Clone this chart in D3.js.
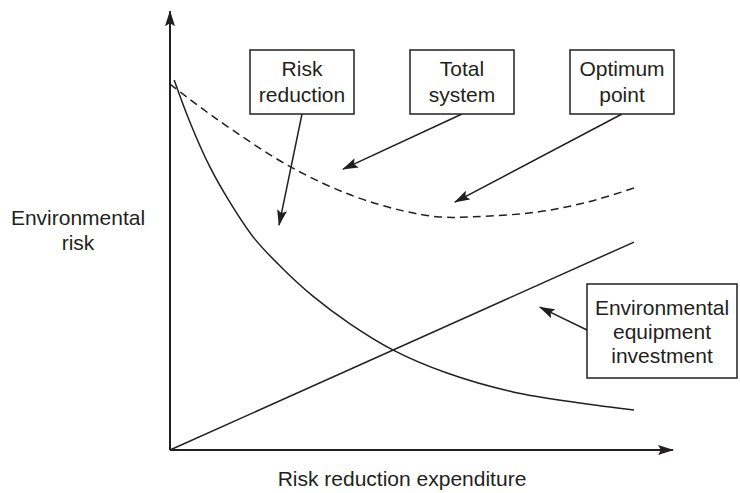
<!DOCTYPE html>
<html>
<head>
<meta charset="utf-8">
<script src="https://cdn.jsdelivr.net/npm/d3@7/dist/d3.min.js"></script>
<style>
    body { margin: 0; background: #fff; }
    svg text { font-family: "Liberation Sans", Arial, Helvetica, sans-serif; font-size: 21px; fill: #231f20; }
</style>
</head>
<body>
<svg id="chart" width="740" height="493"></svg>
<script>
// curves (arbitrary units, x 0..10, y 0..10)
var riskX = [0.09, 0.43, 0.86, 1.29, 1.83, 2.48, 3.08, 3.88, 4.81, 5.97, 7.39, 8.84, 10]
var riskY = [10, 8.86, 7.65, 6.7, 5.7, 4.84, 4.16, 3.41, 2.7, 2.08, 1.57, 1.27, 1.08]

var totalX = [0, 1.0, 2.6, 3.9, 5.0, 5.8, 6.5, 7.9, 9.0, 10]
var totalY = [9.89, 8.95, 7.65, 6.89, 6.47, 6.3, 6.3, 6.43, 6.7, 7.08]

var investX = [0, 10]
var investY = [0, 5.62]

// annotation texts and where their arrows point
var noteLines = [["Risk", "reduction"], ["Total", "system"], ["Optimum", "point"], ["Environmental", "equipment", "investment"]]
var noteTipX = [2.35, 3.73, 6.14, 7.97]
var noteTipY = [6.08, 7.59, 6.70, 3.86]

var xLabel = "Risk reduction expenditure"
var yLabel = ["Environmental", "risk"]

var ink = "#231f20"

var xScale = d3.scaleLinear().domain([0, 10]).range([170, 634])
var yScale = d3.scaleLinear().domain([0, 10]).range([450, 80])

var svg = d3.select("#chart")

svg.append("defs").append("marker")
    .attr("id", "head")
    .attr("viewBox", "0 -5 16 10")
    .attr("refX", 15)
    .attr("refY", 0)
    .attr("markerWidth", 16)
    .attr("markerHeight", 10)
    .attr("markerUnits", "userSpaceOnUse")
    .attr("orient", "auto")
    .append("path")
    .attr("d", "M0,-5L16,0L0,5L3,0Z")
    .style("fill", ink)

function zip(xs, ys) {
    return xs.map(function (x, i) { return { x: x, y: ys[i] } })
}

var line = d3.line()
    .x(function (d) { return xScale(d.x) })
    .y(function (d) { return yScale(d.y) })
    .curve(d3.curveCatmullRom.alpha(0.5))

// axes
svg.append("line")
    .attr("x1", xScale(0)).attr("y1", yScale(0))
    .attr("x2", xScale(10.84)).attr("y2", yScale(0))
    .style("stroke", ink).style("stroke-width", 2)
    .attr("marker-end", "url(#head)")

svg.append("line")
    .attr("x1", xScale(0)).attr("y1", yScale(0))
    .attr("x2", xScale(0)).attr("y2", yScale(11.86))
    .style("stroke", ink).style("stroke-width", 2)
    .attr("marker-end", "url(#head)")

// curves
svg.append("path")
    .datum(zip(riskX, riskY))
    .attr("d", line)
    .style("fill", "none").style("stroke", ink).style("stroke-width", 1.5)

svg.append("path")
    .datum(zip(investX, investY))
    .attr("d", line)
    .style("fill", "none").style("stroke", ink).style("stroke-width", 1.5)

svg.append("path")
    .datum(zip(totalX, totalY))
    .attr("d", line)
    .style("fill", "none").style("stroke", ink).style("stroke-width", 1.5)
    .style("stroke-dasharray", "8,5")

// axis titles
svg.append("text")
    .attr("x", 402).attr("y", 486)
    .style("text-anchor", "middle")
    .text(xLabel)

svg.append("text")
    .attr("x", 78).attr("y", 225)
    .style("text-anchor", "middle")
    .selectAll("tspan")
    .data(yLabel)
    .enter().append("tspan")
    .attr("x", 78)
    .attr("dy", function (d, i) { return i == 0 ? 0 : 25 })
    .text(function (d) { return d })

// annotation boxes: layout [x, y, w, h, arrow start x, arrow start y, first baseline, line step]
var boxes = [
    [250, 50, 104, 64, 302, 114, 76, 26],
    [410, 50, 104, 64, 462, 114, 76, 26],
    [570, 50, 104, 64, 622, 114, 76, 26],
    [587, 284, 150, 94, 587, 330, 315, 24]
]

boxes.forEach(function (b, i) {
    var g = svg.append("g").attr("class", "note")

    g.append("line")
        .attr("x1", b[4]).attr("y1", b[5])
        .attr("x2", xScale(noteTipX[i])).attr("y2", yScale(noteTipY[i]))
        .style("stroke", ink).style("stroke-width", 1.5)
        .attr("marker-end", "url(#head)")

    g.append("rect")
        .attr("x", b[0]).attr("y", b[1])
        .attr("width", b[2]).attr("height", b[3])
        .style("fill", "#fff").style("stroke", ink).style("stroke-width", 1.5)

    g.append("text")
        .style("text-anchor", "middle")
        .selectAll("tspan")
        .data(noteLines[i])
        .enter().append("tspan")
        .attr("x", b[0] + b[2] / 2)
        .attr("y", function (d, j) { return b[6] + j * b[7] })
        .text(function (d) { return d })
})
</script>
</body>
</html>
